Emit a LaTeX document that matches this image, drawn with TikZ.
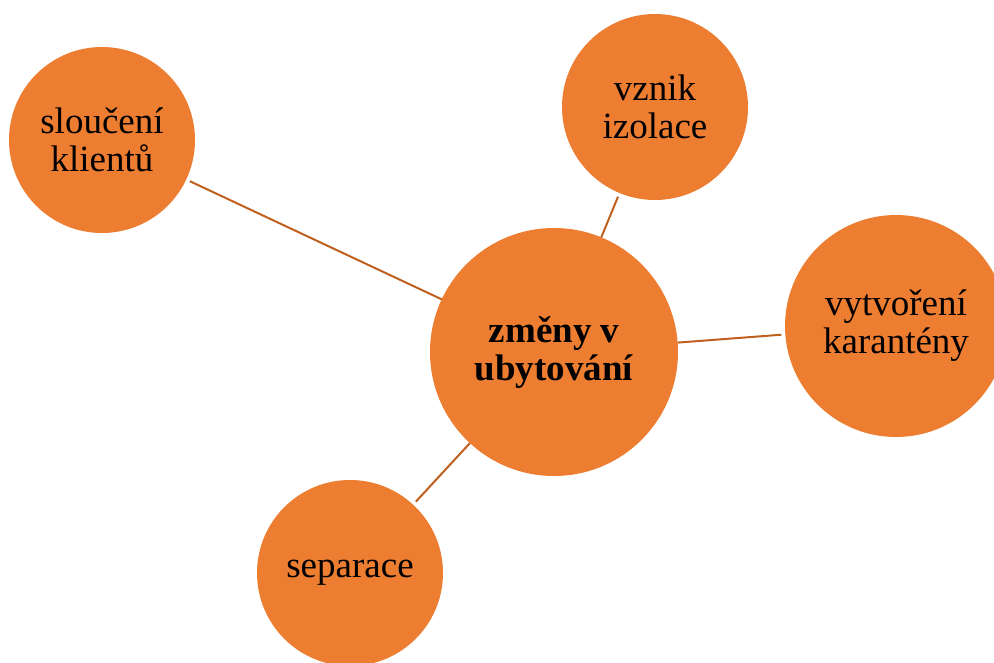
\documentclass[tikz,border=0pt]{standalone}
\usepackage{fontspec}
\setmainfont{Liberation Serif}
\usetikzlibrary{positioning}

\definecolor{bubble}{HTML}{ED7D31}
\definecolor{spoke}{HTML}{C0601E}

\tikzset{
  bubble/.style={circle, fill=bubble, inner sep=0pt, outer sep=0pt, align=center,
    font=\fontsize{37}{38}\selectfont},
  link/.style={draw=spoke, line width=2pt, shorten <=4pt}
}

\begin{document}
\begin{tikzpicture}[x=1pt, y=-1pt]
		\useasboundingbox (0,0) rectangle (994,662);
		% Define the coordinates of the bubbles
		\coordinate (h) at (554,352);
		\coordinate (m) at (102,140);
		\coordinate (i) at (655,107);
		\coordinate (q) at (896,326);
		\coordinate (s) at (350,573);

        % Draw the bubbles
        \node[bubble, minimum size=248pt, font=\fontsize{37}{38}\selectfont\bfseries] (hub) at (h) {změny v\\ubytování};
        \node[bubble, minimum size=186pt] (merge) at (m) {sloučení\\klientů};
        \node[bubble, minimum size=186pt] (isolation) at (i) {vznik\\izolace};
        \node[bubble, minimum size=222pt] (quarantine) at (q) {vytvoření\\karantény};
        \node[bubble, minimum size=186pt] (separation) at (s) {separace};

        % Draw the lines
        \foreach \sat in {merge, isolation, quarantine, separation}
        \draw[link] (\sat) -- (hub);
     \end{tikzpicture}
\end{document}
